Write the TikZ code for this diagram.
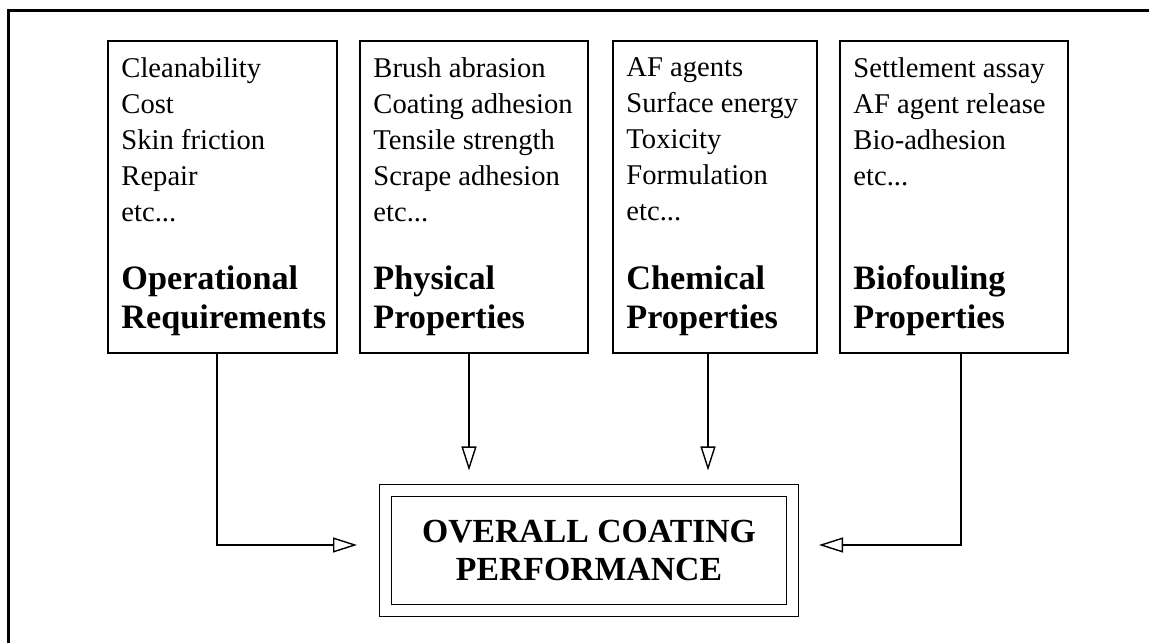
\documentclass[tikz,border=0pt]{standalone}
\usepackage{fontspec}
\setmainfont{Liberation Serif}
\usepackage{tikz}
\usetikzlibrary{arrows.meta}
\newcommand{\propertybox}[5] {\node at (#1) (#2) [rectangle, draw, line width=0.6pt, outer sep=0, anchor=north west, minimum width=#3, minimum height=4.68cm] {};
\node at ([shift={(0.195,-0.2475)}]#2.north west) (#2list) [anchor=north west, listtext] {#4};
\node at ([shift={(0.195,1.32)}]#2.south west) (#2head) [anchor=north west, headtext] {#5};}
\newcommand{\dropline}[2] {\coordinate (#1out) at ([xshift=#2]#1.south);}

\begin{document}
\begin{tikzpicture}[listtext/.style={inner sep=0, align=left, font=\fontsize{12.2}{15.3}\selectfont},
  headtext/.style={inner sep=0, align=left, font=\fontsize{14.6}{16.6}\selectfont\bfseries},
  flow/.style={-{Triangle[open, length=0.36cm, width=0.225cm]}, line width=0.6pt}]
\useasboundingbox (0,0) rectangle (17.235,9.645);
\draw [line width=1.28pt] (0.132,0) -- (0.132,9.4875) -- (17.235,9.4875);
\propertybox{1.62,9.03}{ops}{3.435cm}{Cleanability\\Cost\\Skin friction\\Repair\\etc...}{Operational\\Requirements}
\propertybox{5.4,9.03}{phys}{3.42cm}{Brush abrasion\\Coating adhesion\\Tensile strength\\Scrape adhesion\\etc...}{Physical\\Properties}
\propertybox{9.195,9.03}{chem}{3.06cm}{AF agents\\Surface energy\\Toxicity\\Formulation\\etc...}{Chemical\\Properties}
\propertybox{12.6,9.03}{bio}{3.42cm}{Settlement assay\\AF agent release\\Bio-adhesion\\etc...}{Biofouling\\Properties}
\node at (8.835,1.3875) (coat) [draw, double, double distance=0.165cm, line width=0.6pt, outer sep=0, minimum width=6.105cm, minimum height=1.8cm, align=center, font=\fontsize{14.4}{15.8}\selectfont\bfseries] {OVERALL COATING\\PERFORMANCE};
\dropline{ops}{-0.0825cm}
\dropline{phys}{-0.075cm}
\dropline{chem}{-0.105cm}
\dropline{bio}{0.105cm}
\coordinate (coatleft) at ([yshift=0.0825cm]coat.west);
\coordinate (coatright) at ([yshift=0.0825cm]coat.east);
\draw [flow, shorten >=0.4275cm] (opsout) |- (coatleft);
\draw [flow, shorten >=0.3cm] (physout) -- (physout |- coat.north);
\draw [flow, shorten >=0.3cm] (chemout) -- (chemout |- coat.north);
\draw [flow, shorten >=0.3975cm] (bioout) |- (coatright);
\end{tikzpicture}
\end{document}
